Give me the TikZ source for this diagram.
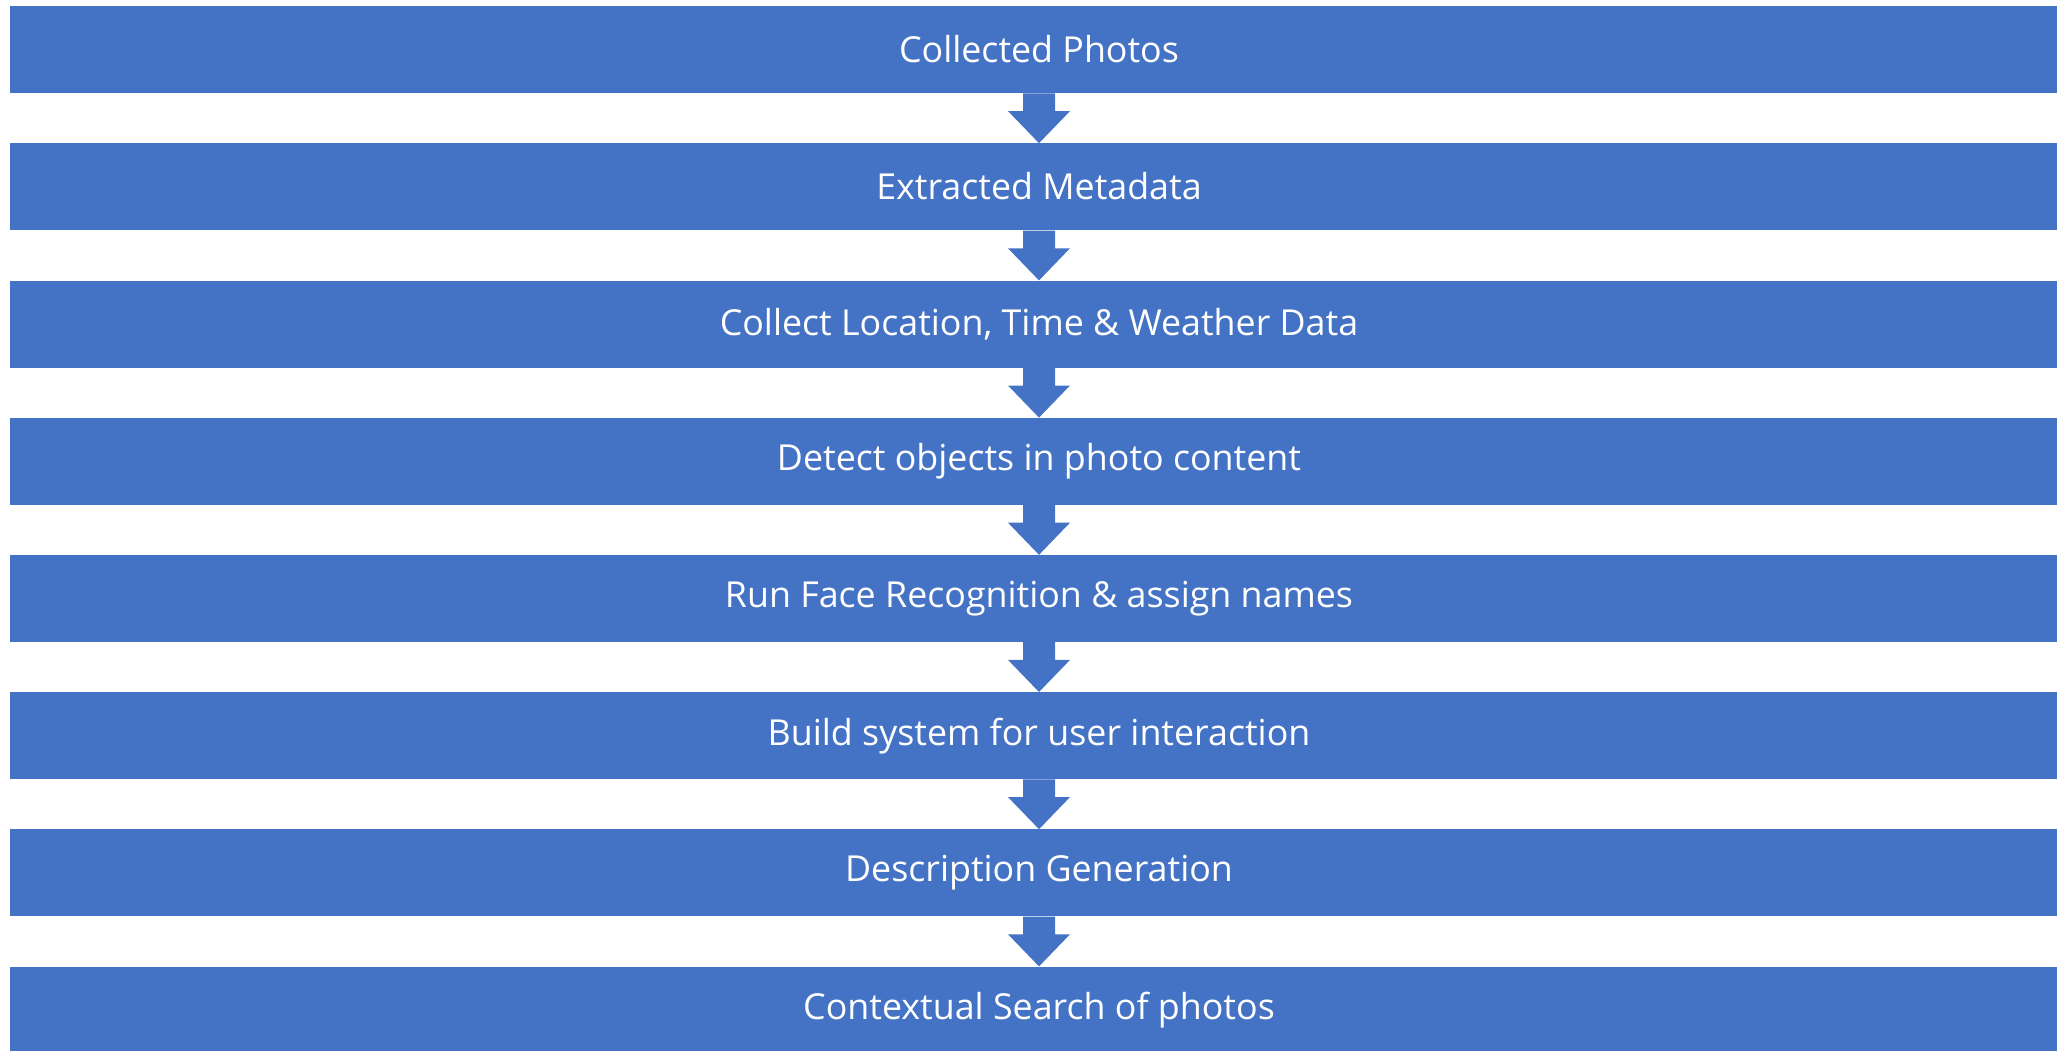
\documentclass[tikz,border=0pt]{standalone}
\usepackage{fontspec}
\setmainfont{Open Sans}
\usetikzlibrary{calc}
\definecolor{boxblue}{HTML}{4472C4}
\tikzset{
  stepbox/.style={fill=boxblue, draw=none, text=white, minimum width=2059pt, minimum height=87pt,
    inner sep=0pt, font=\fontsize{35.8}{43}\selectfont, anchor=north},
  flowarrow/.style={fill=boxblue, draw=none}
}
\begin{document}
\begin{tikzpicture}[x=1pt,y=-1pt]
\useasboundingbox (0,0) rectangle (2057,1051);
\foreach \t [count=\i from 0] in {Collected Photos,Extracted Metadata,{Collect Location, Time \& Weather Data},Detect objects in photo content,Run Face Recognition \& assign names,Build system for user interaction,Description Generation,Contextual Search of photos}{
  \node[stepbox] (b\i) at (1039, {6+137.2*\i}) {\raisebox{1pt}{\t}};
}
\foreach \i [evaluate=\i as \j using int(\i+1)] in {0,...,6}{
  \fill[flowarrow] ([xshift=-16pt]b\i.south) -- ([xshift=-16pt,yshift=-17.7pt]b\i.south)
    -- ([xshift=-31pt,yshift=-17.7pt]b\i.south) -- (b\j.north)
    -- ([xshift=31pt,yshift=-17.7pt]b\i.south) -- ([xshift=16pt,yshift=-17.7pt]b\i.south)
    -- ([xshift=16pt]b\i.south) -- cycle;
}
\end{tikzpicture}
\end{document}
